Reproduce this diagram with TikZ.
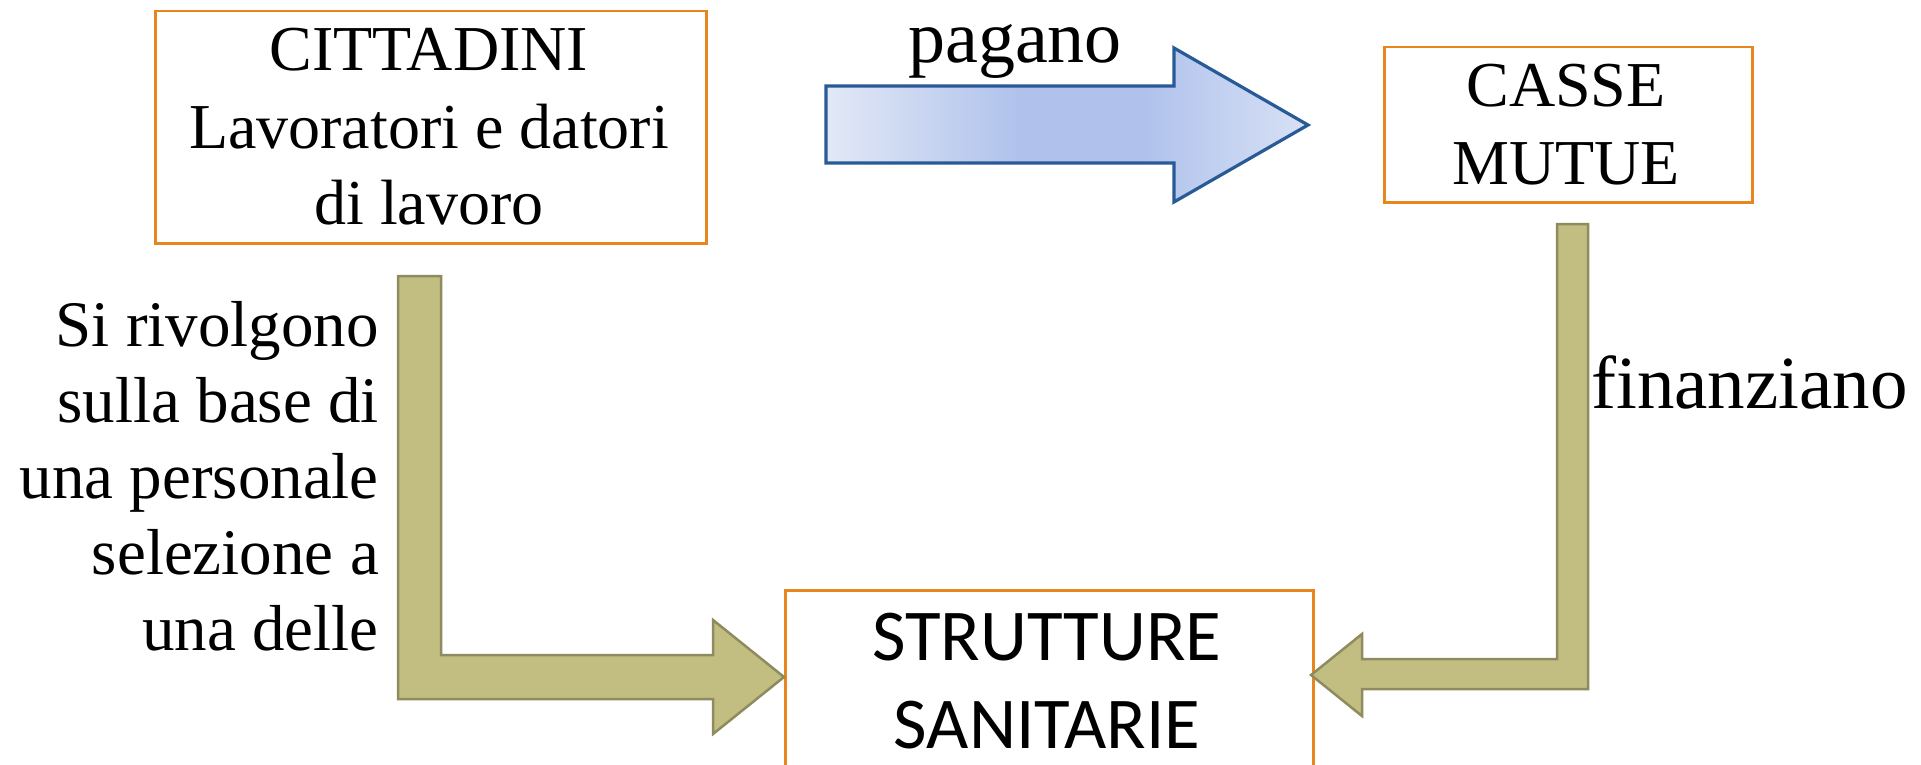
\documentclass[tikz,border=0pt]{standalone}
\usepackage{fontspec}
\setmainfont{Liberation Serif}
\newfontfamily\calibrifont{Carlito}
\definecolor{boxorange}{RGB}{232,134,30}
\definecolor{tanfill}{RGB}{194,190,130}
\definecolor{tanline}{RGB}{142,139,94}
\definecolor{blueline}{RGB}{40,90,150}
\definecolor{bluelight}{RGB}{226,232,246}
\definecolor{bluemid}{RGB}{176,194,236}
\definecolor{blueright}{RGB}{216,225,245}
\pgfdeclarehorizontalshading{bluearr}{100bp}{color(0bp)=(bluelight); color(25bp)=(bluelight); color(45bp)=(bluemid); color(58bp)=(bluemid); color(75bp)=(blueright); color(100bp)=(blueright)}
\tikzset{
  box/.style={draw=boxorange, line width=2.5pt, inner sep=0pt, anchor=north west},
  txt/.style={inner sep=0pt, anchor=base, font=\fontsize{64}{76}\selectfont},
  sidetxt/.style={inner sep=0pt, anchor=base east, font=\fontsize{65}{76}\selectfont},
  bigtxt/.style={inner sep=0pt, anchor=base, font=\calibrifont\fontsize{73}{88}\selectfont},
  tanarrow/.style={fill=tanfill, draw=tanline, line width=2.5pt, line join=miter},
  bluearrow/.style={shading=bluearr, draw=blueline, line width=3.2pt, line join=miter}
}
\begin{document}
\begin{tikzpicture}[x=1pt,y=-1pt]
\useasboundingbox (0,0) rectangle (1921,765);
\fill[white] (0,0) rectangle (1921,765);
\clip (0,0) rectangle (1921,765);

% boxes
\node[box, minimum width=551pt, minimum height=232pt] (cit) at (154,10) {};
\node[box, minimum width=368pt, minimum height=155pt] (casse) at (1383,46) {};
\node[box, minimum width=528pt, minimum height=220pt] (strut) at (784,589) {};

% box texts
\node[txt] (cit1) at (429,71) {CITTADINI};
\node[txt] (cit2) at (429,148) {Lavoratori e datori};
\node[txt] (cit3) at (429,224) {di lavoro};
\node[txt] (cas1) at (1566,107) {CASSE};
\node[txt] (cas2) at (1566,184) {MUTUE};
\node[bigtxt] (str1) at (1047,660) {STRUTTURE};
\node[bigtxt] (str2) at (1047,748) {SANITARIE};

% blue arrow: pagano
\coordinate (bA) at (826,86);
\coordinate (bB) at (1174,86);
\coordinate (bC) at (1174,48);
\coordinate (bTip) at (1308,125);
\coordinate (bD) at (1174,202);
\coordinate (bE) at (1174,163);
\coordinate (bF) at (826,163);
\path[bluearrow] (bA) -- (bB) -- (bC) -- (bTip) -- (bD) -- (bE) -- (bF) -- cycle;
\node[inner sep=0pt, anchor=base, font=\fontsize{74}{88}\selectfont] (pag) at (1015,63) {pagano};

% left tan arrow
\coordinate (lA) at (398,276);
\coordinate (lB) at (441,276);
\coordinate (lC) at (441,655);
\coordinate (lD) at (713,655);
\coordinate (lE) at (713,620);
\coordinate (lTip) at (784,677);
\coordinate (lF) at (713,734);
\coordinate (lG) at (713,699);
\coordinate (lH) at (398,699);
\path[tanarrow] (lA) -- (lB) -- (lC) -- (lD) -- (lE) -- (lTip) -- (lF) -- (lG) -- (lH) -- cycle;

% right tan arrow
\coordinate (rA) at (1588,224);
\coordinate (rB) at (1557,224);
\coordinate (rC) at (1557,659);
\coordinate (rD) at (1362,659);
\coordinate (rE) at (1362,634);
\coordinate (rTip) at (1311,675);
\coordinate (rF) at (1362,716);
\coordinate (rG) at (1362,689);
\coordinate (rH) at (1588,689);
\path[tanarrow] (rA) -- (rB) -- (rC) -- (rD) -- (rE) -- (rTip) -- (rF) -- (rG) -- (rH) -- cycle;

% side labels
\node[sidetxt] (s1) at (379,346) {Si rivolgono};
\node[sidetxt] (s2) at (379,422) {sulla base di};
\node[sidetxt] (s3) at (379,498) {una personale};
\node[sidetxt] (s4) at (379,574) {selezione a};
\node[sidetxt] (s5) at (379,650) {una delle};
\node[inner sep=0pt, anchor=base west, font=\fontsize{75}{88}\selectfont] (fin) at (1591,408) {finanziano};
\end{tikzpicture}
\end{document}
